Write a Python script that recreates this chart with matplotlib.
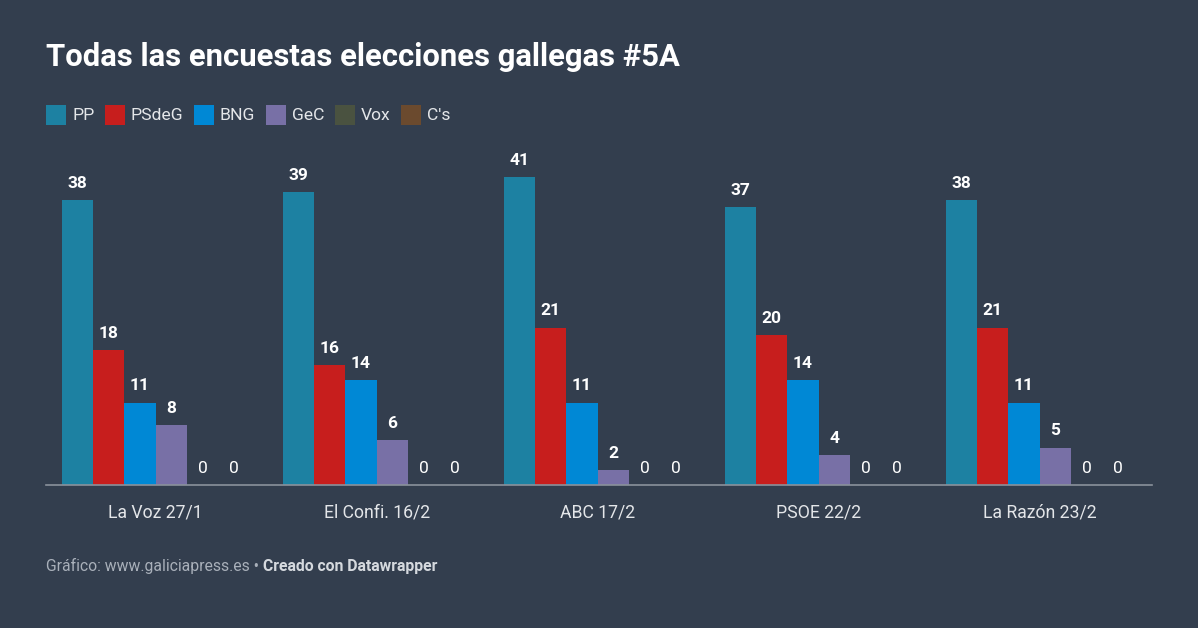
import matplotlib
matplotlib.use("Agg")
import matplotlib.pyplot as plt
from matplotlib.patches import Rectangle

plt.rcParams['font.family'] = ['Roboto', 'DejaVu Sans']

categories = ["La Voz 27/1", "El Confi. 16/2", "ABC 17/2", "PSOE 22/2", "La Razón 23/2"]
parties = ["PP", "PSdeG", "BNG", "GeC", "Vox", "C's"]
PP = [38, 39, 41, 37, 38]
PSdeG = [18, 16, 21, 20, 21]
BNG = [11, 14, 11, 14, 11]
GeC = [8, 6, 2, 4, 5]
Vox = [0, 0, 0, 0, 0]
Cs = [0, 0, 0, 0, 0]
series = [PP, PSdeG, BNG, GeC, Vox, Cs]
colors = ["#1d81a2", "#c71e1d", "#0088d5", "#7870a6", "#4a5240", "#6b4a2e"]

BG = "#333e4e"
W, H = 1198, 628
fig = plt.figure(figsize=(W / 100, H / 100), dpi=100, facecolor=BG)

# axes in pixel geometry
ax_left, ax_right, ax_bottom, ax_top = 46, 1152, 485, 150
ax = fig.add_axes([ax_left / W, 1 - ax_bottom / H, (ax_right - ax_left) / W, (ax_bottom - ax_top) / H])
ax.set_facecolor(BG)

bw = 31.2
gap = 221
x0 = 62
ax.set_xlim(ax_left - x0, ax_right - x0)
ax.set_ylim(0, (ax_bottom - ax_top) / 7.5)

for j, (vals, c) in enumerate(zip(series, colors)):
    xs = [i * gap + j * bw for i in range(len(categories))]
    ax.bar(xs, vals, width=bw, align='edge', color=c, linewidth=0)
    for x, v in zip(xs, vals):
        ax.annotate(str(v), (x + bw / 2, v), xytext=(0, 6.5), textcoords='offset points',
                    ha='center', va='bottom', color='white', fontsize=12.5,
                    fontweight='bold' if v > 0 else 'normal')

for s in ['top', 'right', 'left']:
    ax.spines[s].set_visible(False)
ax.spines['bottom'].set_color('#8a919b')
ax.spines['bottom'].set_linewidth(1.2)
ax.set_yticks([])
ax.set_xticks([i * gap + 3 * bw for i in range(len(categories))])
ax.set_xticklabels(categories, color='#e4e6e9', fontsize=12.7)
ax.tick_params(axis='x', length=0, pad=13.5)

# title
fig.text(46 / W, 1 - 57 / H, "Todas las encuestas elecciones gallegas #5A", color='white',
         fontsize=22.3, fontweight='bold', va='center', ha='left')

# legend (manual)
fig.canvas.draw()
renderer = fig.canvas.get_renderer()
lx = 46
ly = 115
sq = 20
for p, c in zip(parties, colors):
    fig.add_artist(Rectangle((lx / W, 1 - (ly + sq / 2) / H), sq / W, sq / H,
                             transform=fig.transFigure, facecolor=c, edgecolor='none'))
    t = fig.text((lx + sq + 6) / W, 1 - ly / H, p, color='#e4e6e9', fontsize=12.6,
                 va='center', ha='left')
    bb = t.get_window_extent(renderer)
    lx = bb.x1 + 10.5

# footer
t1 = fig.text(46 / W, 1 - 566 / H, "Gráfico: www.galiciapress.es • ", color='#a9b0ba',
              fontsize=11.3, va='center', ha='left')
bb = t1.get_window_extent(renderer)
fig.text(bb.x1 / W, 1 - 566 / H, "Creado con Datawrapper", color='#d5d9de',
         fontsize=11.3, fontweight='bold', va='center', ha='left')

fig.savefig("out.png", dpi=100, facecolor=BG)
